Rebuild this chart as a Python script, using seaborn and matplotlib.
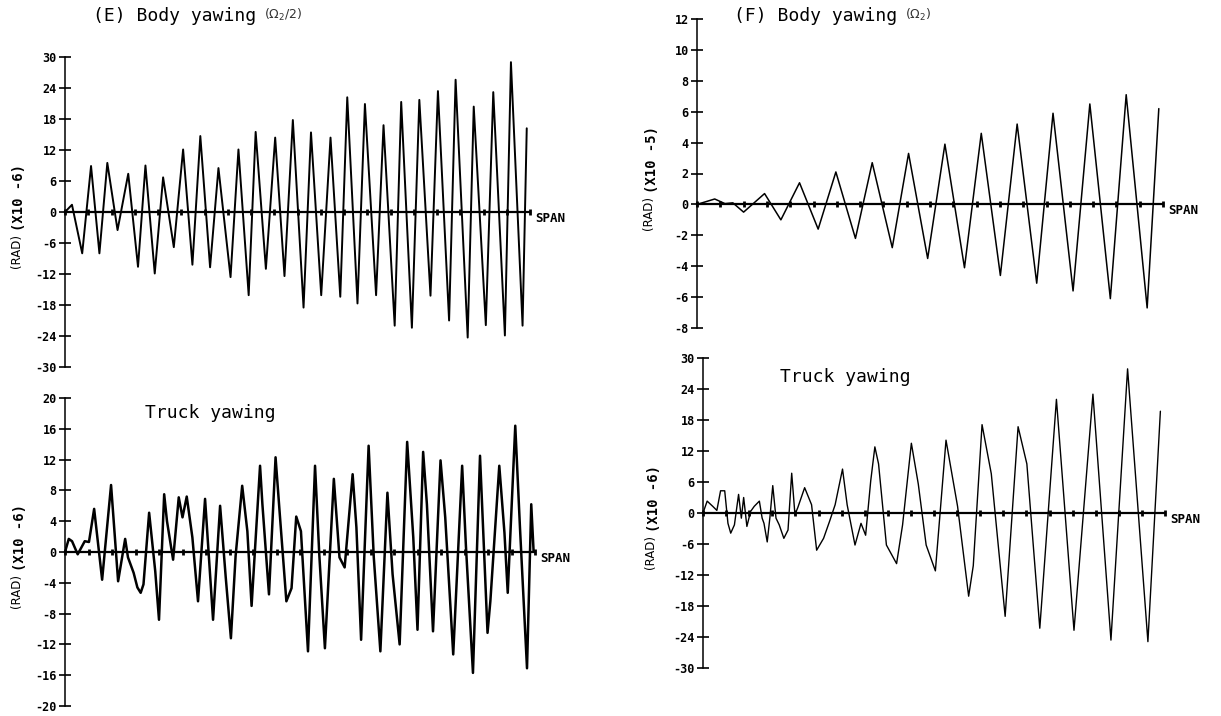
import numpy as np
import pandas as pd
import seaborn as sns
import matplotlib.pyplot as plt

# span position (0-100) and amplitude
body_e_x = [0, 1.5, 3.7, 5.6, 7.4, 9.1, 11.3, 13.6, 15.7, 17.3, 19.3, 21.1, 23.4,
            25.4, 27.4, 29.1, 31.2, 33.0, 35.6, 37.3, 39.5, 41.0, 43.2, 45.2, 47.2,
            49.0, 51.3, 52.9, 55.1, 57.1, 59.2, 60.7, 62.9, 64.5, 66.9, 68.5, 70.9,
            72.3, 74.6, 76.2, 78.6, 80.2, 82.6, 84.0, 86.6, 87.9, 90.5, 92.1, 94.6,
            95.9, 98.4, 99.3]
body_e_y = [0, 1.4, -8.0, 8.9, -8.0, 9.5, -3.5, 7.4, -10.6, 9.0, -11.9, 6.7, -6.8,
            12.1, -10.2, 14.7, -10.7, 8.5, -12.6, 12.1, -16.1, 15.5, -11.0, 14.4, -12.4,
            17.8, -18.5, 15.4, -16.1, 14.4, -16.4, 22.2, -17.7, 20.9, -16.1, 16.8, -22.0,
            21.3, -22.4, 21.7, -16.2, 23.4, -21.0, 25.6, -24.3, 20.4, -21.9, 23.2, -23.9,
            29.0, -22.0, 16.2]

truck_e_x = [0, 0.8, 1.5, 2.7, 4.2, 5.1, 6.2, 7.9, 9.8, 11.3, 12.8, 13.4, 14.6, 15.4,
             16.1, 16.7, 17.9, 19.2, 20.0, 21.1, 21.7, 23.0, 24.2, 25.0, 25.9, 27.1,
             28.3, 29.8, 31.5, 33.0, 34.2, 35.3, 36.3, 37.7, 38.8, 39.7, 41.5, 42.0,
             43.4, 44.8, 45.7, 47.1, 48.2, 49.2, 50.2, 51.7, 53.2, 54.1, 55.3, 57.2,
             58.4, 59.5, 61.2, 62.0, 63.0, 64.6, 65.7, 67.1, 68.6, 69.7, 71.2, 72.8,
             74.1, 75.0, 76.2, 77.0, 78.3, 79.9, 80.9, 82.6, 84.5, 85.3, 86.8, 88.3,
             89.9, 90.5, 92.4, 93.5, 94.2, 95.8, 96.8, 98.3, 99.2, 99.7]
truck_e_y = [0, 1.7, 1.4, -0.3, 1.4, 1.3, 5.6, -3.6, 8.7, -3.8, 1.7, -0.7, -2.7, -4.6,
             -5.3, -4.2, 5.1, -2.5, -8.8, 7.5, 4.0, -1.0, 7.1, 4.5, 7.2, 1.9,
             -6.4, 6.9, -8.8, 6.0, -3.3, -11.2, -0.5, 8.6, 2.7, -7.0, 11.2, 6.2,
             -5.5, 12.3, 4.9, -6.4, -4.7, 4.6, 2.7, -12.9, 11.2, -0.3, -12.5, 9.5,
             -0.7, -2.0, 10.1, 3.2, -11.4, 13.8, -0.7, -12.9, 7.7, -2.9, -12.0, 14.3,
             1.9, -10.1, 13.0, 6.2, -10.3, 11.9, 4.5, -13.3, 11.2, 0.8, -15.7, 12.5,
             -10.5, -6.4, 11.2, 2.5, -5.3, 16.4, 3.2, -15.1, 6.2, 0.1]

body_f_x = [0, 3.8, 6.0, 7.7, 10.0, 14.5, 18.0, 22.0, 26.0, 29.8, 34.0, 37.6, 41.9,
            45.4, 49.5, 53.2, 57.4, 61.0, 65.1, 68.7, 72.9, 76.4, 80.7, 84.3, 88.7,
            92.1, 96.6, 99.1]
body_f_y = [0, 0.35, 0.05, 0.1, -0.5, 0.7, -1.0, 1.4, -1.6, 2.1, -2.2, 2.7, -2.8,
            3.3, -3.5, 3.9, -4.1, 4.6, -4.6, 5.2, -5.1, 5.9, -5.6, 6.5, -6.1,
            7.1, -6.7, 6.2]

truck_f_x = [0, 0.9, 2.1, 3.0, 3.8, 4.7, 5.4, 6.0, 6.8, 7.7, 8.3, 8.8, 9.5, 10.3,
             11.1, 12.2, 12.8, 13.2, 13.9, 14.5, 15.1, 15.8, 16.5, 17.5, 18.4, 19.2,
             19.9, 20.5, 22.0, 23.5, 24.6, 26.1, 27.4, 28.6, 30.2, 31.2, 32.9, 34.2,
             35.2, 36.3, 37.2, 38.0, 39.7, 41.9, 43.2, 45.1, 46.6, 48.3, 50.3, 52.6,
             55.1, 57.5, 58.5, 60.4, 62.4, 65.4, 68.2, 70.1, 72.9, 76.5, 80.3, 84.4,
             88.3, 91.9, 96.3, 99.0]
truck_f_y = [0, 2.3, 1.3, 0.5, 4.3, 4.3, -2.0, -3.9, -2.3, 3.6, -1.0, 3.0, -2.6, 0.3,
             1.3, 2.3, -1.0, -2.0, -5.6, -0.7, 5.3, -1.0, -2.3, -4.9, -3.3, 7.7,
             -0.3, 1.0, 4.9, 1.6, -7.2, -4.9, -1.6, 1.6, 8.5, 1.6, -6.2, -2.0,
             -4.3, 6.2, 12.8, 9.5, -6.2, -9.8, -2.3, 13.5, 5.6, -6.2, -11.2, 14.1,
             1.3, -16.1, -10.2, 17.1, 7.6, -20.0, 16.7, 9.5, -22.3, 22.0, -22.7, 23.0,
             -24.6, 27.9, -24.9, 19.7]

ticks_30 = [30, 24, 18, 12, 6, 0, -6, -12, -18, -24, -30]
ticks_20 = [20, 16, 12, 8, 4, 0, -4, -8, -12, -16, -20]
ticks_12 = [12, 10, 8, 6, 4, 2, 0, -2, -4, -6, -8]

sns.set_style('ticks')
plt.rcParams['font.family'] = ['DejaVu Sans Mono', 'DejaVu Sans']
plt.rcParams['text.color'] = 'black'
plt.rcParams['xtick.color'] = 'black'
plt.rcParams['ytick.color'] = 'black'

W, H = 1221, 716
fig = plt.figure(figsize=(W / 100, H / 100), dpi=100)


def box(x0, y0, x1, y1):
    # pixel box -> figure fraction rect
    return [x0 / W, 1 - y1 / H, (x1 - x0) / W, (y1 - y0) / H]


def panel(rect, x, y, yticks, lw):
    ax = fig.add_axes(rect)
    df = pd.DataFrame({'span': x, 'val': y})
    sns.lineplot(data=df, x='span', y='val', ax=ax, color='black', lw=lw,
                 sort=False, estimator=None)
    ax.set_xlim(0, 100)
    ax.set_ylim(yticks[-1], yticks[0])
    ax.patch.set_alpha(0)
    for s in ['top', 'right']:
        ax.spines[s].set_visible(False)
    ax.spines['bottom'].set_position(('data', 0))
    ax.spines['bottom'].set_linewidth(1.6)
    ax.spines['left'].set_linewidth(1.1)
    ax.spines['left'].set_color('black')
    ax.spines['bottom'].set_color('black')
    ax.set_xticks(np.arange(0, 101, 5))
    ax.set_xticklabels([])
    ax.tick_params(axis='x', bottom=True, direction='inout', length=5, width=2,
                   color='black')
    ax.set_yticks(yticks)
    ax.set_yticklabels([str(t) for t in yticks], fontweight='bold', fontsize=8.5)
    ax.tick_params(axis='y', left=True, direction='inout', length=8, width=1.2,
                   color='black', labelcolor='black', pad=2)
    ax.set_xlabel('')
    ax.set_ylabel('')
    ax.text(1.012, 0, 'SPAN', transform=ax.get_yaxis_transform(),
            fontsize=9, fontweight='bold', va='top', ha='left')
    return ax


def ylab(xc, yc, exp):
    # "(RAD)" thin, "(X10 -n)" bold, stacked along rotated axis
    split = yc + 19
    fig.text(xc / W, 1 - split / H, '(RAD) ', rotation=90, fontsize=8.5,
             va='top', ha='center', family='DejaVu Sans')
    fig.text((xc + 2) / W, 1 - split / H, '(X10 %s)' % exp, rotation=90,
             fontsize=10, fontweight='bold', va='bottom', ha='center')


ax_e1 = panel(box(65, 57, 530, 367), body_e_x, body_e_y, ticks_30, 1.4)
ax_e2 = panel(box(65, 398, 535, 706), truck_e_x, truck_e_y, ticks_20, 1.8)
ax_f1 = panel(box(697, 19, 1163, 328), body_f_x, body_f_y, ticks_12, 1.1)
ax_f2 = panel(box(703, 358, 1165, 668), truck_f_x, truck_f_y, ticks_30, 1.0)

ylab(17, 212, '-6')
ylab(18, 552, '-6')
ylab(650, 174, '-5')
ylab(652, 513, '-6')

t1 = fig.text(93 / W, 1 - 16 / H, '(E) Body yawing', fontsize=13, va='center')
t2 = fig.text(734 / W, 1 - 16 / H, '(F) Body yawing', fontsize=13, va='center')
fig.text(145 / W, 1 - 413 / H, 'Truck yawing', fontsize=13, va='center')
fig.text(780 / W, 1 - 377 / H, 'Truck yawing', fontsize=13, va='center')

fig.canvas.draw()
r = fig.canvas.get_renderer()
for t, s in [(t1, r'$(\Omega_2/2)$'), (t2, r'$(\Omega_2)$')]:
    bb = t.get_window_extent(r)
    fig.text((bb.x1 + 8) / W, 1 - 15 / H, s, fontsize=9, va='center',
             family='DejaVu Sans', color='#333333')

fig.savefig('out.png', dpi=100, facecolor='white')
